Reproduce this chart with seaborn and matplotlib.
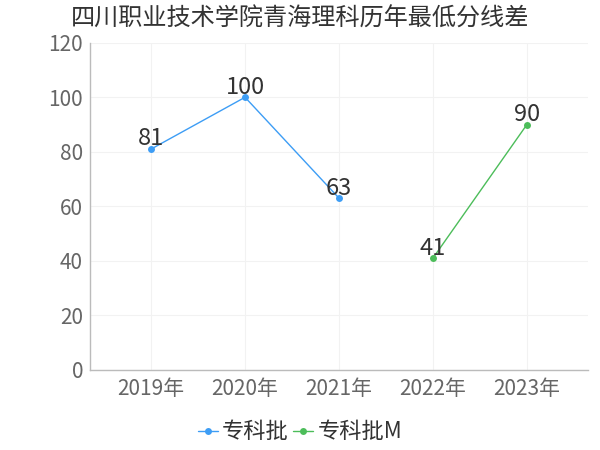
import matplotlib
matplotlib.use("Agg")

import matplotlib.pyplot as plt
import pandas as pd
import seaborn as sns

years = ["2019年", "2020年", "2021年", "2022年", "2023年"]
series_a_years = ["2019年", "2020年", "2021年"]
series_a_values = [81, 100, 63]
series_b_years = ["2022年", "2023年"]
series_b_values = [41, 90]
series_names = ["专科批", "专科批M"]
y_ticks = [0, 20, 40, 60, 80, 100, 120]

sns.set_style("white")
plt.rcParams["font.family"] = ["Noto Sans CJK SC", "DejaVu Sans"]

df = pd.DataFrame({
    "year": series_a_years + series_b_years,
    "value": series_a_values + series_b_values,
    "batch": [series_names[0]] * len(series_a_years) + [series_names[1]] * len(series_b_years),
})
df["pos"] = df["year"].map({y: i for i, y in enumerate(years)})

palette = {series_names[0]: "#3d9df5", series_names[1]: "#4cbd5a"}

fig, ax = plt.subplots(figsize=(6, 4.5), dpi=100)
fig.subplots_adjust(left=0.15, right=0.98, top=0.905, bottom=0.178)

sns.lineplot(data=df, x="pos", y="value", hue="batch", palette=palette,
             marker="o", markersize=5, markeredgewidth=0, linewidth=1,
             sort=False, ax=ax, legend=False)

for _, row in df.iterrows():
    ax.annotate(str(row["value"]), (row["pos"], row["value"]), xytext=(0, -1),
                textcoords="offset points", ha="center", va="bottom",
                fontsize=17, color="#333333")

ax.set_xlim(-0.65, 4.65)
ax.set_ylim(0, 120)
ax.set_xticks(range(len(years)))
ax.set_xticklabels(years)
ax.set_yticks(y_ticks)
ax.tick_params(axis="both", labelsize=15, colors="#666666", length=0, pad=5)
ax.tick_params(axis="x", pad=6)
ax.grid(True, color="#f2f2f2", linewidth=0.8)
for side in ["top", "right"]:
    ax.spines[side].set_visible(False)
for side in ["left", "bottom"]:
    ax.spines[side].set_color("#bbbbbb")
    ax.spines[side].set_linewidth(1)
ax.set_xlabel("")
ax.set_ylabel("")

fig.suptitle("四川职业技术学院青海理科历年最低分线差", fontsize=17.4, color="#333333",
             x=0.5, y=0.988, va="top")

handles = [plt.Line2D([0], [0], color=palette[n], marker="o", markersize=5,
                      markeredgewidth=0, linewidth=1) for n in series_names]
fig.legend(handles, series_names, loc="lower center", ncol=2, frameon=False,
           fontsize=16, bbox_to_anchor=(0.5, -0.03), handlelength=0.9,
           handletextpad=0.2, columnspacing=0.2, labelcolor="#333333")

fig.savefig("out.png", dpi=100)
